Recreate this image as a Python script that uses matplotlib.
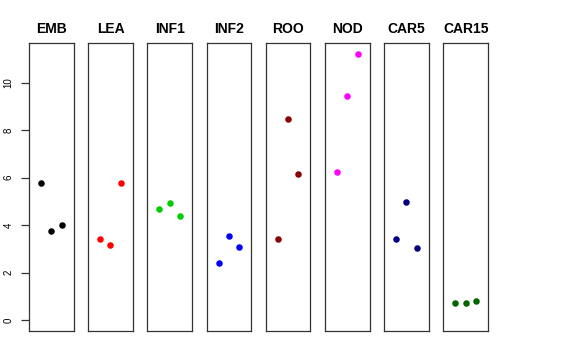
import numpy as np
import matplotlib.pyplot as plt

plt.rcParams['font.family'] = ['Liberation Sans', 'DejaVu Sans']

# tissue groups and their three replicate values
groups = ["EMB", "LEA", "INF1", "INF2", "ROO", "NOD", "CAR5", "CAR15"]
colors = ["black", "red", "#00CD00", "blue", "#8B0000", "magenta", "#000080", "#006400"]
emb = [5.79, 3.74, 4.02]
lea = [3.41, 3.16, 5.78]
inf1 = [4.70, 4.95, 4.39]
inf2 = [2.41, 3.53, 3.10]
roo = [3.41, 8.47, 6.15]
nod = [6.23, 9.45, 11.22]
car5 = [3.43, 4.96, 3.05]
car15 = [0.74, 0.71, 0.81]
values = [emb, lea, inf1, inf2, roo, nod, car5, car15]
yticks = [0, 2, 4, 6, 8, 10]

ymax = max(max(v) for v in values)
pad = 0.04 * ymax

fig = plt.figure(figsize=(5.76, 3.6), dpi=100)
lefts = [29, 88.2, 147.4, 206.6, 265.8, 325, 384.2, 443.4]
for i, (name, col, vals) in enumerate(zip(groups, colors, values)):
    ax = fig.add_axes([lefts[i] / 576, 1 - 331 / 360, 44.5 / 576, 288 / 360])
    x = np.arange(1, len(vals) + 1)
    ax.scatter(x, vals, s=22, color=col, linewidths=0, zorder=3)
    ax.set_xlim(-0.16, 4.16)
    ax.set_ylim(-pad, ymax + pad)
    ax.set_xticks([])
    for s in ax.spines.values():
        s.set_linewidth(0.9)
        s.set_color("#333333")
    ax.set_title(name, fontsize=10, fontweight="bold", pad=7)
    if i == 0:
        ax.set_yticks(yticks)
        ax.set_yticklabels([str(t) for t in yticks], rotation=90, va="center", fontsize=7)
        ax.tick_params(axis="y", length=6, width=0.9, color="#333333", pad=5)
    else:
        ax.set_yticks([])

fig.savefig("out.png", dpi=100)
